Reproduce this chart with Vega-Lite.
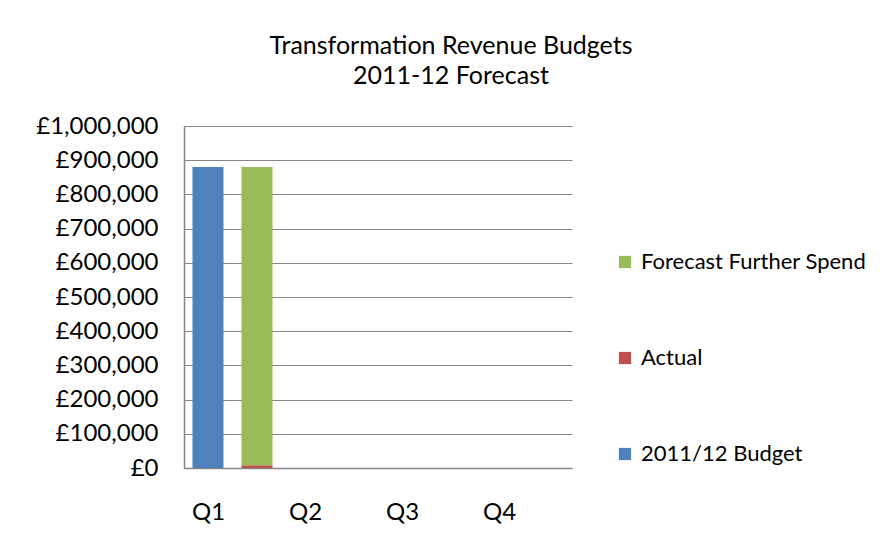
{
  "$schema": "https://vega.github.io/schema/vega-lite/v6.json",
  "autosize": {"type": "none"},
  "width": 388,
  "height": 342,
  "padding": {"left": 184, "top": 126, "right": 315, "bottom": 83},
  "background": "white",
  "config": {
    "font": "Lato",
    "view": {"stroke": null}
  },
  "title": {
    "text": ["Transformation Revenue Budgets", "2011-12 Forecast"],
    "font": "Lato",
    "fontSize": 25,
    "fontWeight": "normal",
    "color": "#000000",
    "anchor": "middle",
    "dx": 73,
    "lineHeight": 30,
    "offset": 25
  },
  "data": {
    "values": [
      {"quarter": "Q1", "group": "Budget", "series": "2011/12 Budget", "value": 880000},
      {"quarter": "Q1", "group": "Spend", "series": "Actual", "value": 8000},
      {"quarter": "Q1", "group": "Spend", "series": "Forecast Further Spend", "value": 872000}
    ]
  },
  "mark": {"type": "bar"},
  "encoding": {
    "x": {
      "field": "quarter",
      "type": "nominal",
      "scale": {"domain": ["Q1", "Q2", "Q3", "Q4"], "paddingInner": 0, "paddingOuter": 0},
      "axis": {
        "title": null,
        "labelAngle": 0,
        "labelFontSize": 24,
        "labelColor": "#000000",
        "labelOffset": -24,
        "labelPadding": 32,
        "ticks": false,
        "grid": false,
        "domainColor": "#868686",
        "domainWidth": 1.5
      }
    },
    "xOffset": {
      "field": "group",
      "type": "nominal",
      "scale": {"domain": ["Budget", "Spend"], "paddingInner": 0.367, "paddingOuter": 0.173}
    },
    "y": {
      "field": "value",
      "type": "quantitative",
      "stack": "zero",
      "scale": {"domain": [0, 1000000], "nice": false},
      "axis": {
        "title": null,
        "values": [0, 100000, 200000, 300000, 400000, 500000, 600000, 700000, 800000, 900000, 1000000],
        "labelExpr": "'£' + format(datum.value, ',')",
        "labelFontSize": 24,
        "labelColor": "#000000",
        "labelPadding": 26,
        "ticks": false,
        "grid": true,
        "gridColor": "#868686",
        "gridWidth": 1.2,
        "domainColor": "#868686",
        "domainWidth": 1.5
      }
    },
    "color": {
      "field": "series",
      "type": "nominal",
      "scale": {
        "domain": ["Forecast Further Spend", "Actual", "2011/12 Budget"],
        "range": ["#9BBB59", "#C0504D", "#4F81BD"]
      },
      "legend": {
        "title": null,
        "orient": "none",
        "legendX": 430,
        "legendY": 125,
        "padding": 0,
        "symbolType": "square",
        "symbolSize": 150,
        "symbolStrokeWidth": 0,
        "labelFontSize": 22,
        "labelColor": "#000000",
        "labelOffset": 5,
        "labelLimit": 0,
        "rowPadding": 74
      }
    },
    "order": {"field": "series", "sort": "ascending"}
  }
}
